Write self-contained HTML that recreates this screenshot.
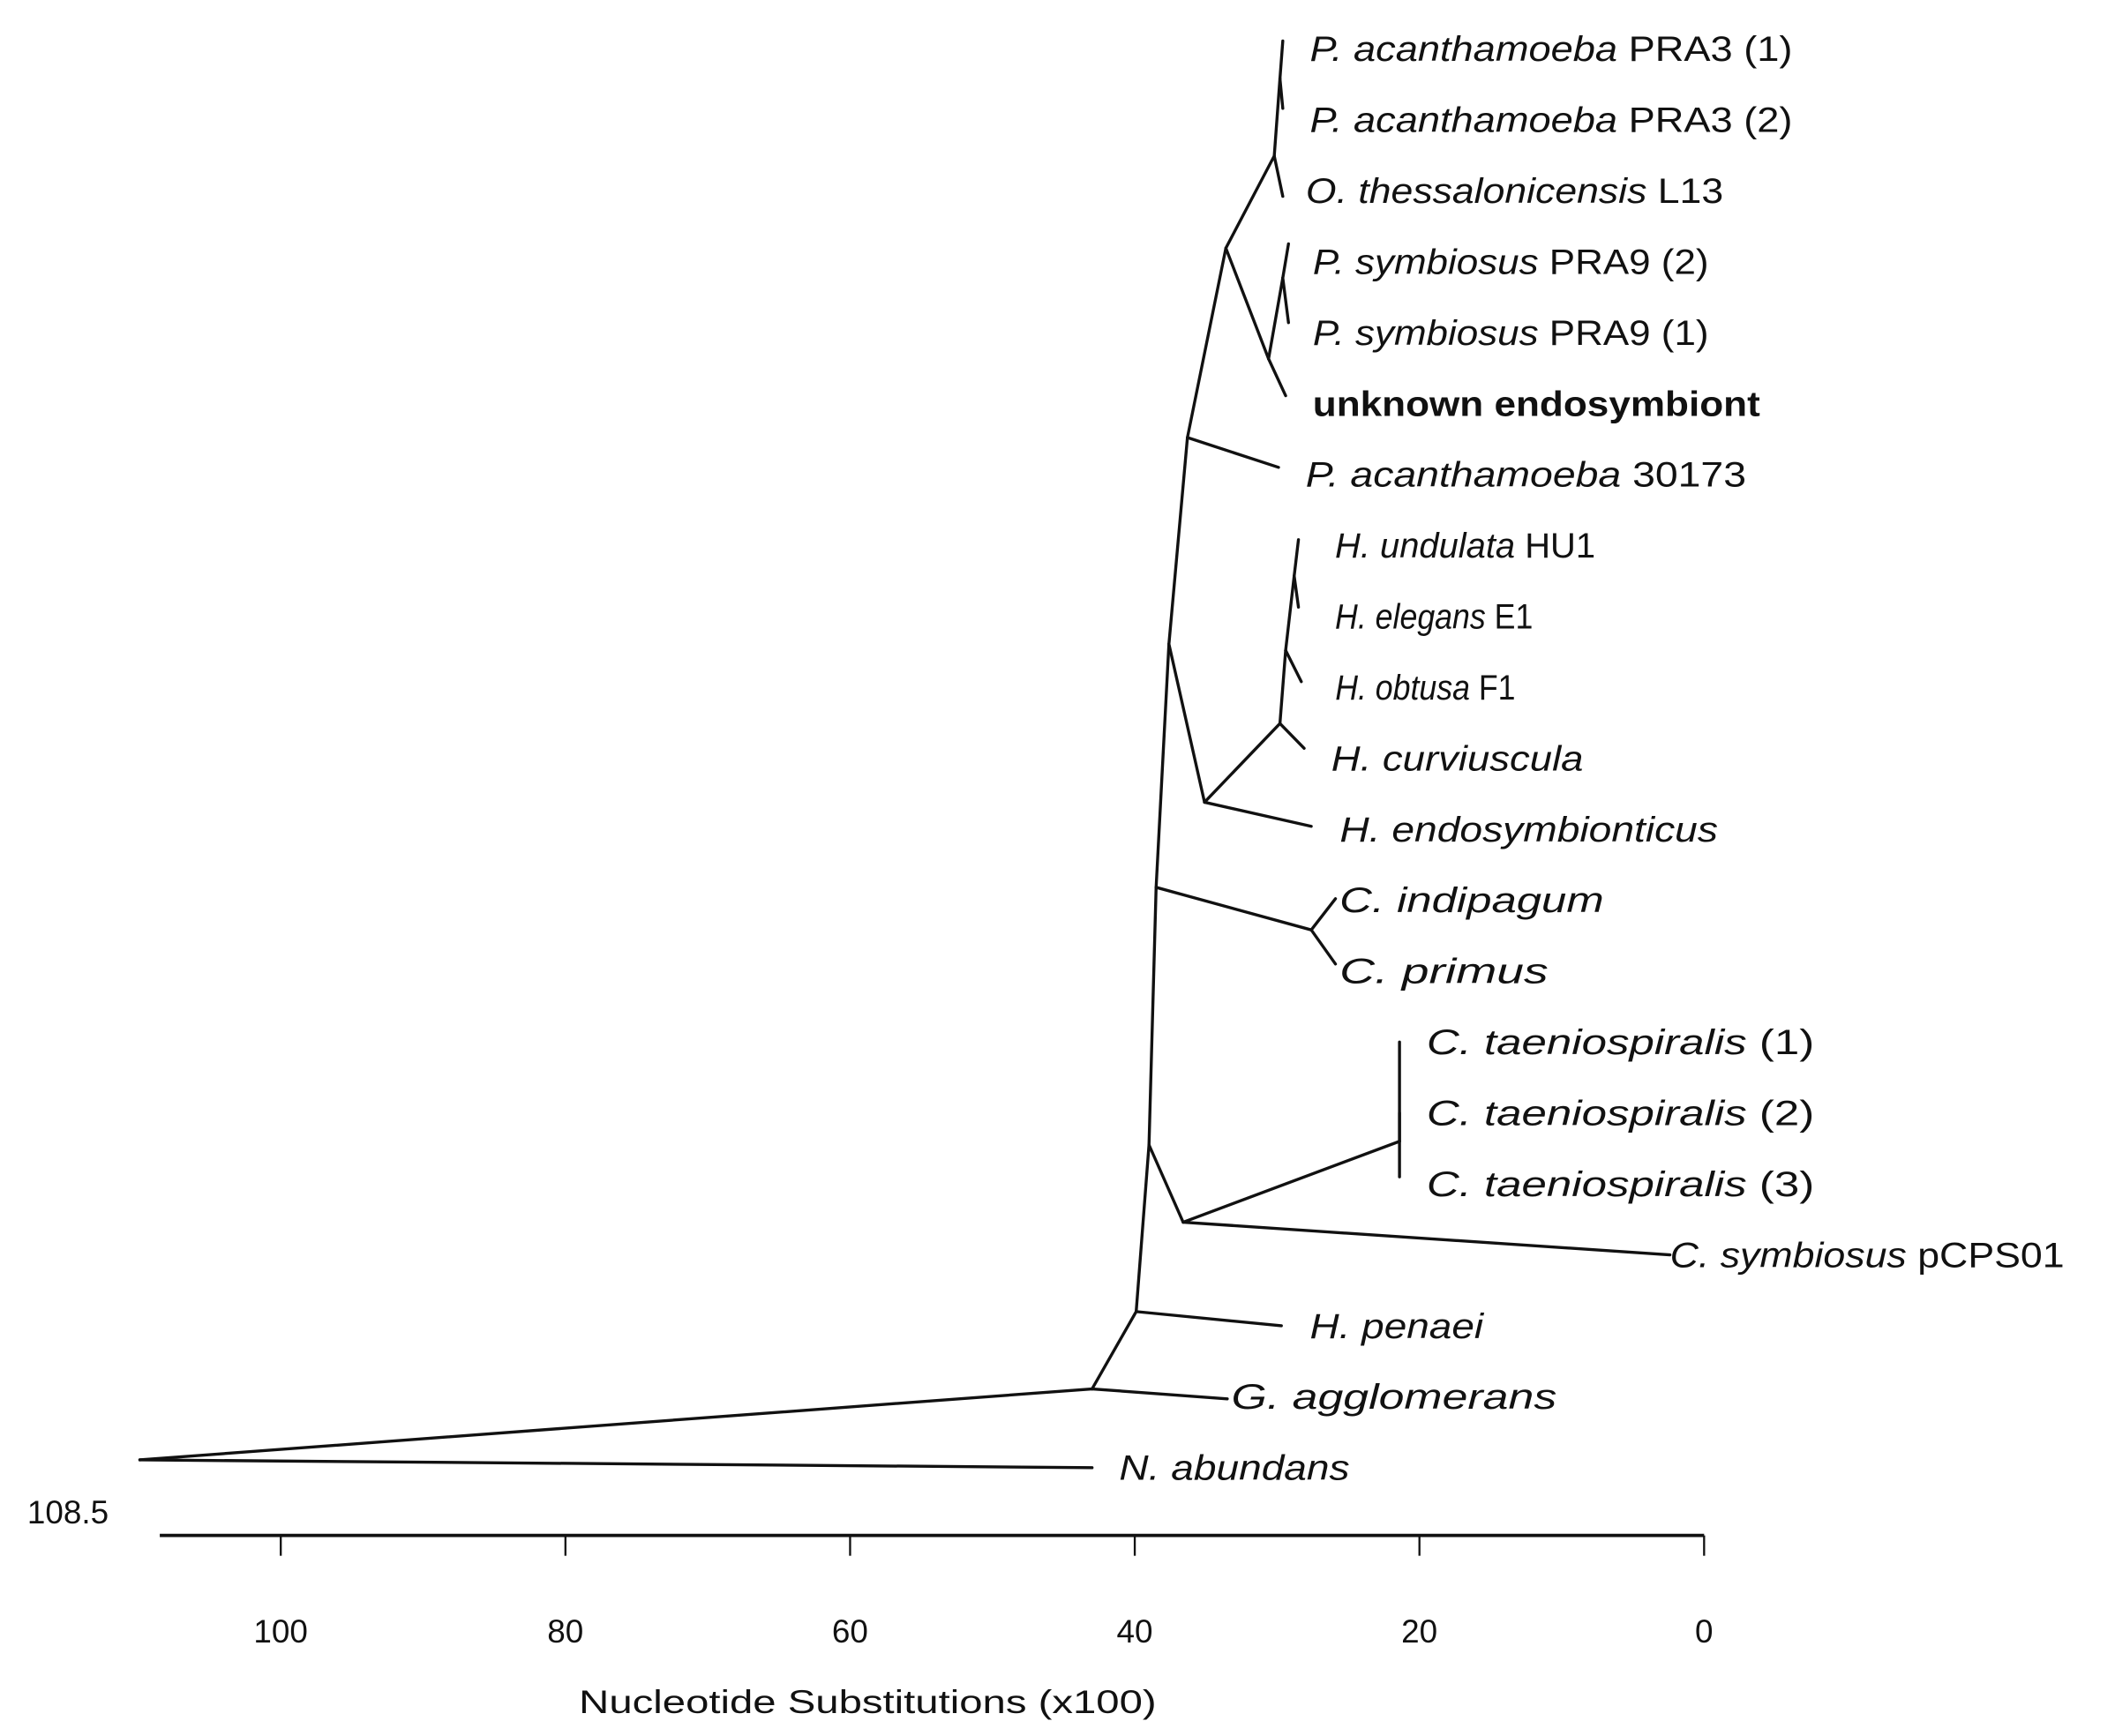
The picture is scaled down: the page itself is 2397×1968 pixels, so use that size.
<!DOCTYPE html>
<html><head><meta charset="utf-8"><style>
html,body{margin:0;padding:0;background:#fff;}
svg{display:block;}
text{font-family:"Liberation Sans",sans-serif;fill:#111;}
</style></head><body>
<svg id="chart" width="2397" height="1968" viewBox="0 0 1560 1281" xmlns="http://www.w3.org/2000/svg">
<g id="branches"></g>
<g id="labels"></g>
<g id="axis"></g>
</svg>
<script>
// ---- data (distance in x100 substitutions, vertical position in leaf-row units) ----
const nodeIds = ["root","nab","A","agg","B","pen","C","D","sym","T","t1","t2","t3","E","Ci","ind","pri","F","G","endo","H","cur","I","f1","J","hu1","e1","K","p30","L","M","N","pa1","pa2","oth","P","unk","Q","ps2","ps1"];
const nodeParents = [null,"root","root","A","A","B","B","C","D","D","T","T","T","C","E","Ci","Ci","E","F","G","G","H","H","I","I","J","J","F","K","K","L","M","N","N","M","L","P","P","Q","Q"];
const nodeDepth = [109.9,43.0,43.0,33.5,39.9,29.7,39.0,36.6,2.4,21.4,21.4,21.4,21.4,38.5,27.6,25.9,25.9,37.6,35.1,27.6,29.8,28.1,29.4,28.3,28.8,28.5,28.5,36.3,29.9,33.6,30.2,29.8,29.6,29.6,29.6,30.6,29.4,29.6,29.2,29.2];
const nodeRow = [19.89,20,18.89,19.03,17.8,18.0,15.45,16.54,17,15.4,14.0,15.0,15.9,11.82,12.42,11.98,12.9,8.39,10.62,10.96,9.51,9.86,8.48,8.92,7.43,6.92,7.87,5.48,5.9,2.81,1.51,0.42,-0.11,0.84,2.08,4.37,4.89,3.23,2.75,3.86];

const leafNodes = ["pa1","pa2","oth","ps2","ps1","unk","p30","hu1","e1","f1","cur","endo","ind","pri","t1","t2","t3","sym","pen","agg","nab"];
const leafItalic = ["P. acanthamoeba","P. acanthamoeba","O. thessalonicensis","P. symbiosus","P. symbiosus","","P. acanthamoeba","H. undulata","H. elegans","H. obtusa","H. curviuscula","H. endosymbionticus","C. indipagum","C. primus","C. taeniospiralis","C. taeniospiralis","C. taeniospiralis","C. symbiosus","H. penaei","G. agglomerans","N. abundans"];
const leafPlain = [" PRA3 (1)"," PRA3 (2)"," L13"," PRA9 (2)"," PRA9 (1)","unknown endosymbiont"," 30173"," HU1"," E1"," F1","","","",""," (1)"," (2)"," (3)"," pCPS01","","",""];
const leafRowIdx = [0,1,2,3,4,5,6,7,8,9,10,11,12,13,14,15,16,17,18,19,20];
const leafWidths = [356,356,308,292,292,330,325,192,146,133,186,279,195,154,286,286,286,291,128,240,170];
const leafGap = [20,20,17,18,18,20,20,27,27,25,20,21,3,3,20,20,20,0,21,3,20];

const tickValues = [100,80,60,40,20,0];
const tickLabels = ["100","80","60","40","20","0"];
const axisMax = 108.5;
const axisTitle = "Nucleotide Substitutions (x100)";

// ---- scales ----
const xS = v => 1257 - 10.5 * v;
const yS = r => 36 + 52.35 * r;
const NS = "http://www.w3.org/2000/svg";
const mk = (t, attrs) => { const e = document.createElementNS(NS, t); for (const k in attrs) e.setAttribute(k, attrs[k]); return e; };

const br = document.getElementById("branches");
nodeIds.forEach((id, i) => {
  const p = nodeParents[i];
  if (p === null) return;
  const j = nodeIds.indexOf(p);
  const ln = mk("line", {x1: xS(nodeDepth[j]), y1: yS(nodeRow[j]), x2: xS(nodeDepth[i]), y2: yS(nodeRow[i]), stroke: "#111", "stroke-width": 2.2, "stroke-linecap": "round"});
  
  
  br.appendChild(ln);
});

const lb = document.getElementById("labels");
leafNodes.forEach((id, k) => {
  const i = nodeIds.indexOf(id);
  const x = xS(nodeDepth[i]) + leafGap[k];
  const y = yS(leafRowIdx[k]) + 9;
  const t = mk("text", {x: x, y: y, "font-size": 26, textLength: leafWidths[k], lengthAdjust: "spacingAndGlyphs"});
  
  
  if (leafItalic[k]) { const s = mk("tspan", {"font-style": "italic"}); s.textContent = leafItalic[k]; t.appendChild(s); }
  if (leafPlain[k]) { const s = mk("tspan", id === "unk" ? {"font-weight": "bold"} : {}); s.textContent = leafPlain[k]; t.appendChild(s); }
  lb.appendChild(t);
});

const ax = document.getElementById("axis");
const axLine = mk("line", {x1: xS(axisMax), y1: 1133, x2: xS(0), y2: 1133, stroke: "#111", "stroke-width": 2.5});


ax.appendChild(axLine);
const maxLbl = mk("text", {x: 20, y: 1124, "font-size": 24});


maxLbl.textContent = String(axisMax);
ax.appendChild(maxLbl);
tickValues.forEach((v, k) => {
  const tk = mk("line", {x1: xS(v), y1: 1133, x2: xS(v), y2: 1148, stroke: "#111", "stroke-width": 1.5});
  
  
  ax.appendChild(tk);
  const tl = mk("text", {x: xS(v), y: 1212, "font-size": 24, "text-anchor": "middle"});
  
  
  tl.textContent = tickLabels[k];
  ax.appendChild(tl);
});
const ttl = mk("text", {x: 640, y: 1264, "font-size": 24, "text-anchor": "middle", textLength: 426, lengthAdjust: "spacingAndGlyphs"});


ttl.textContent = axisTitle;
ax.appendChild(ttl);
</script>
</body></html>
